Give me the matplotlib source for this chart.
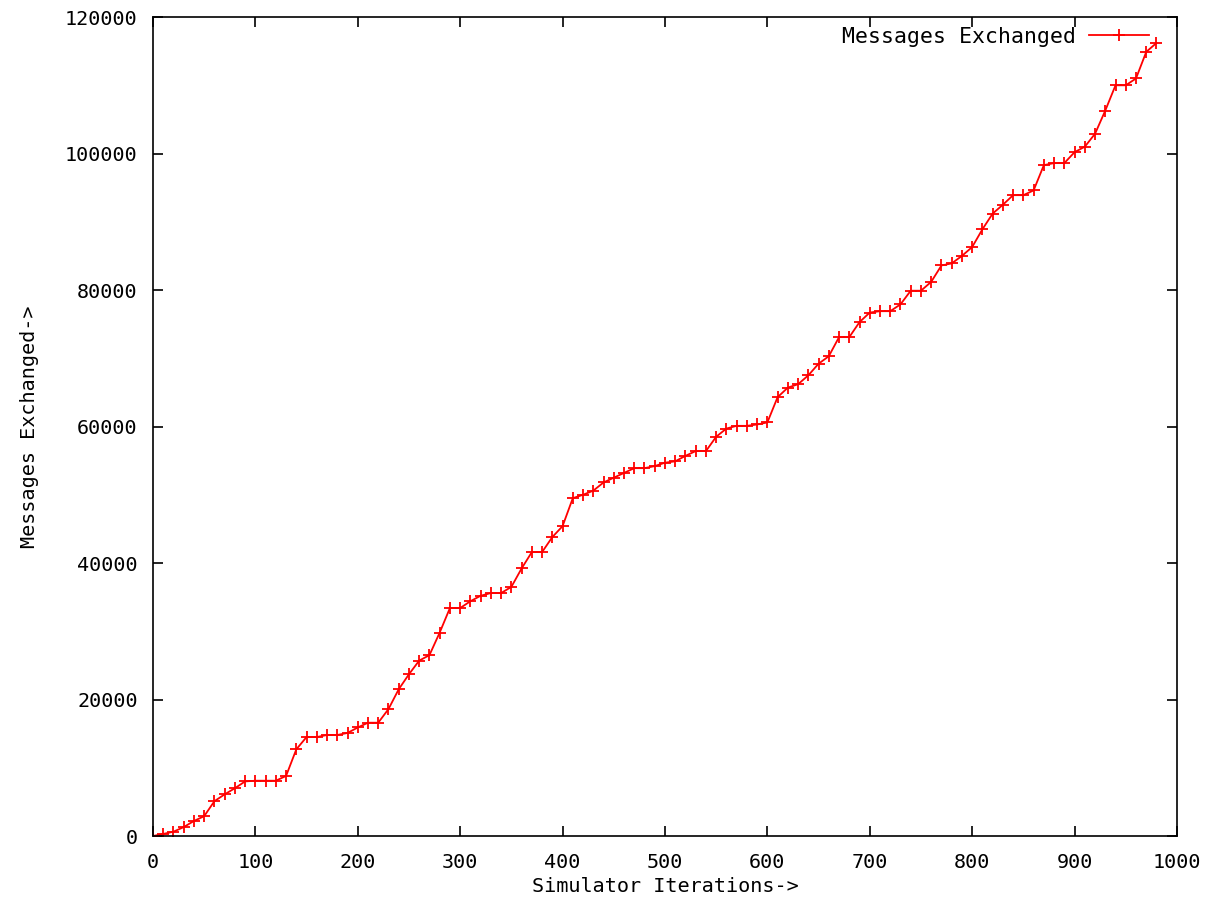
import numpy as np
from matplotlib import pyplot as plt

# simulator iterations (every 10 steps) and messages exchanged
iterations = np.arange(0, 990, 10)
messages = [
    0, 300, 630, 1300, 2200, 2900, 5100, 6100, 7000, 8000,
    8100, 8100, 8100, 8800, 12700, 14500, 14500, 14800, 14800, 15100,
    15900, 16600, 16600, 18600, 21500, 23700, 25700, 26500, 29800, 33400,
    33400, 34400, 35200, 35600, 35600, 36500, 39200, 41600, 41600, 43800,
    45400, 49500, 50000, 50600, 51800, 52500, 53200, 53900, 53900, 54200,
    54700, 54900, 55700, 56400, 56400, 58500, 59700, 60100, 60100, 60300,
    60600, 64300, 65700, 66200, 67500, 69200, 70300, 73100, 73100, 75300,
    76700, 76900, 76900, 77900, 79900, 79900, 81200, 83600, 83900, 85000,
    86300, 88900, 91200, 92500, 93900, 93900, 94600, 98300, 98600, 98600,
    100200, 101000, 102900, 106300, 110000, 110000, 111000, 114900, 116200,
]
xticks = np.arange(0, 1001, 100)
yticks = np.arange(0, 120001, 20000)

plt.rcParams['font.family'] = ['DejaVu Sans Mono']
plt.rcParams['font.size'] = 14.5

fig = plt.figure(figsize=(12.11, 8.97), dpi=100)
ax = fig.add_axes([0.1263, 0.068, 0.9719 - 0.1263, 0.981 - 0.068])

ax.plot(iterations, messages, color='red', linewidth=1.3, marker='+',
        markersize=8, markeredgewidth=1.3, label='Messages Exchanged')

ax.set_xlim(0, 1000)
ax.set_ylim(0, 120000)
ax.set_xticks(xticks)
ax.set_yticks(yticks)
ax.tick_params(direction='in', length=7, width=1.2, top=True, right=True)
ax.tick_params(axis='x', pad=12)
ax.tick_params(axis='y', pad=11)
for s in ax.spines.values():
    s.set_linewidth(1.2)

ax.set_xlabel('Simulator Iterations->', labelpad=4)
ax.set_ylabel('Messages Exchanged->', labelpad=19)

# legend sits inside the top right corner, marker after the text
leg = ax.legend(loc='upper right', bbox_to_anchor=(0.979, 0.996), frameon=False,
                markerfirst=False, handlelength=2.8, borderaxespad=0,
                borderpad=0.3, handletextpad=0.6, prop={'size': 15.5})

fig.savefig('out.png', dpi=100)
